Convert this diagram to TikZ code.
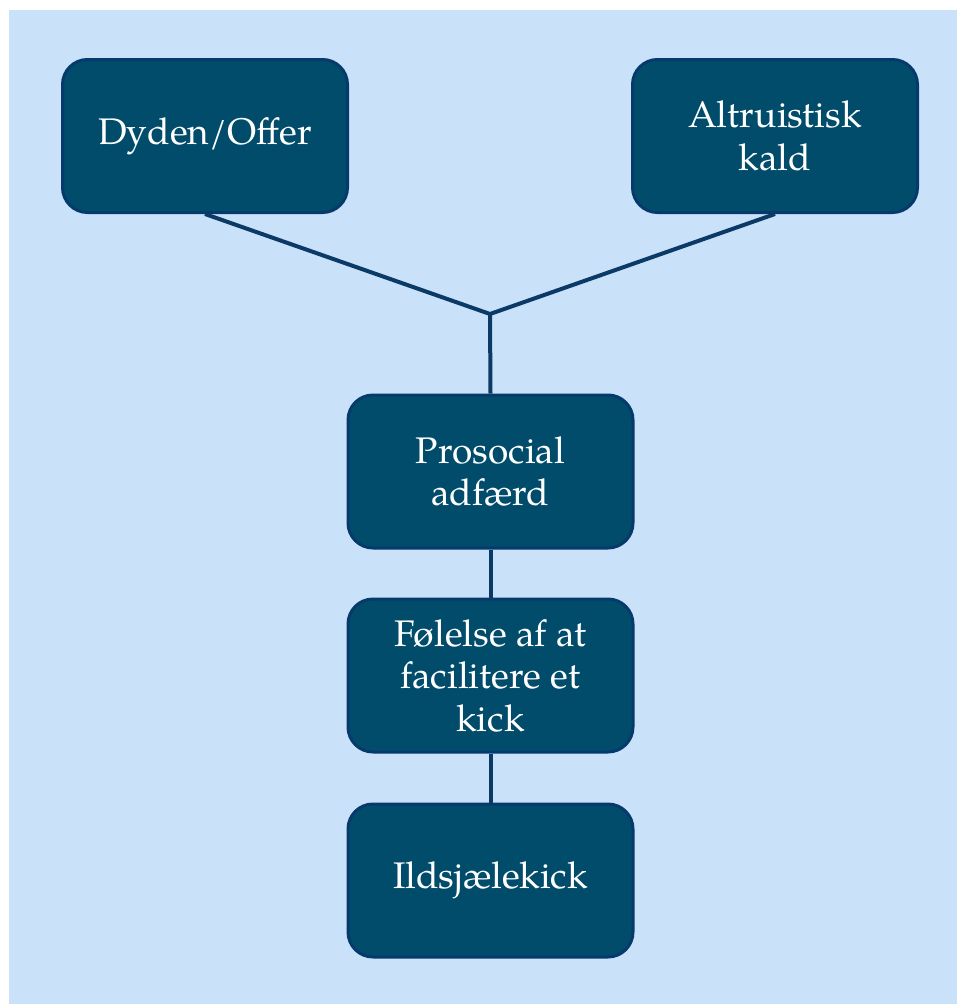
\documentclass[tikz,border=0pt]{standalone}
\usepackage{fontspec}
\setmainfont{TeX Gyre Pagella}
\definecolor{bgblue}{HTML}{C9E2FA}
\definecolor{boxfill}{HTML}{014C6B}
\definecolor{boxedge}{HTML}{073A6C}
\definecolor{linkcol}{HTML}{0C3A66}
\tikzset{
  box/.style={draw=boxedge, fill=boxfill, line width=3pt, rounded corners=25pt,
    minimum width=285pt, minimum height=153pt, text=white, align=center,
    font=\fontsize{37}{42.5}\selectfont, inner sep=0pt},
  link/.style={draw=linkcol, line width=4pt}
}
\begin{document}
\begin{tikzpicture}[x=1pt,y=-1pt]
  \useasboundingbox (0,0) rectangle (957,1004);
  \fill[bgblue] (9,10) rectangle (957,1004);
  \node[box] (dyd) at (205,136) {Dyden/Offer};
  \node[box] (alt) at (775,136) {Altruistisk\\kald};
  \node[box] (pro) at (490.5,471.5) {Prosocial\\adfærd};
  \node[box] (fol) at (490.5,675.5) {Følelse af at\\facilitere et\\kick};
  \node[box] (ild) at (490.5,880.5) {Ildsjælekick};
  \coordinate (j) at (490,314);
  \draw[link] (dyd.south) -- (j) -- (alt.south);
  \draw[link] (j) -- (pro.north);
  \draw[link] (pro.south) -- (fol.north);
  \draw[link] (fol.south) -- (ild.north);
\end{tikzpicture}
\end{document}
